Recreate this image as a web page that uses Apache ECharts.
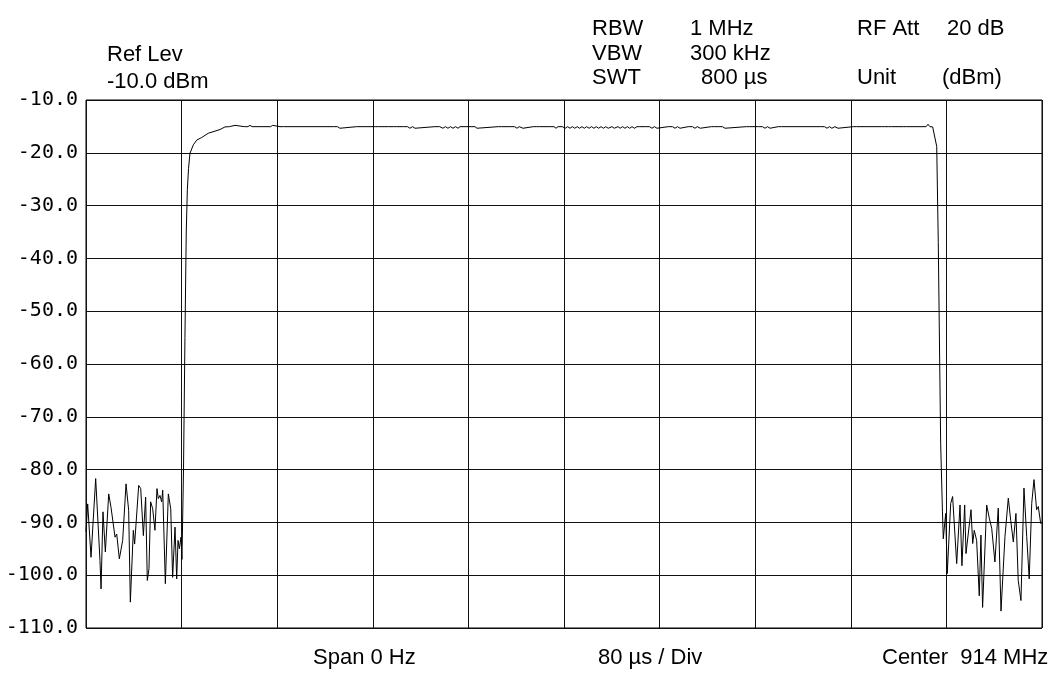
<!DOCTYPE html>
<html>
<head>
<meta charset="utf-8">
<script src="https://cdn.jsdelivr.net/npm/echarts@6/dist/echarts.min.js"></script>
<style>
html,body{margin:0;padding:0;background:#fff;}
#chart{width:1060px;height:673px;}
</style>
</head>
<body>
<div id="chart"></div>
<script>
// ---- data (time in µs, level in dBm) ----
const yTicks = [-110, -100, -90, -80, -70, -60, -50, -40, -30, -20, -10];

const noiseLeftT = [0, 1.4, 4.2, 8.1, 11.7, 12.6, 14.2, 16.2, 19.0, 20.9, 24.3, 25.7, 27.9, 30.7, 33.5, 35.7, 37.1, 39.6, 40.7, 44.1, 45.8, 48.0, 49.9, 51.3, 52.7, 54.1, 55.8, 57.7, 59.4, 60.5, 61.9, 63.3, 64.2, 66.4, 68.9, 70.9, 72.5, 74.5, 75.9, 77.0, 78.1, 79.5];
const noiseLeftV = [-91.8, -86.5, -96.6, -81.7, -97.2, -102.6, -88.0, -95.6, -84.6, -87.1, -92.8, -92.2, -96.9, -93.4, -82.7, -87.7, -105.1, -91.5, -94.1, -83.0, -83.6, -92.5, -85.2, -101.0, -98.8, -86.1, -87.4, -91.5, -83.6, -85.5, -84.9, -86.1, -83.9, -101.6, -84.6, -87.4, -100.4, -90.9, -100.7, -93.4, -95.0, -92.8];

const riseT = [80.3, 81.6, 82.8, 83.9, 84.8, 85.8, 87.0, 89.8, 92.6, 96.8, 102.3, 107.9, 112.1, 116.3];
const riseV = [-97, -80, -55, -35, -27, -23, -20.1, -18.5, -17.6, -17.1, -16.3, -15.9, -15.6, -15.1];

const flatT = [120, 124.7, 126, 132.5, 133.9, 135.5, 137.2, 139, 154.5, 156.2, 157.8, 162.3, 163.8, 165.3,
  207, 208.4, 210.4, 212.5, 214, 226.5, 227.9, 229.3, 242, 243.3, 244.8, 250.2, 251.6, 253, 257.2, 258.6, 260,
  265.5, 266.9, 269, 271.1, 273.2, 275.3, 276.8, 292, 293.5, 296, 298.7, 300.8, 302.9, 305, 307.1, 309.2, 311.3, 313,
  322.3, 323.8, 325.5, 327.2, 328.7, 345, 346.4, 347.8, 355, 356.5, 358.6, 360.7, 362.5, 365.7, 367.2,
  374.3, 375.7, 377, 378.2, 379.6, 388.5, 389.9, 391.6, 393.3, 395, 396.6, 398.6,
  401, 403, 405, 407, 409, 411, 413, 415, 417, 419, 421, 423, 425, 427, 429, 431, 433, 435, 437, 440.2, 442, 445.2, 447, 449, 451, 453, 455, 456.9, 459, 461.1, 463,
  468, 469.4, 471.5, 473.6, 475.7, 477.8, 479.3, 487.3, 488.7, 490.8, 492.9, 495, 497.1, 498.6,
  504, 505.4, 507.5, 509.6, 511.5, 514, 515.5, 523.3, 524.7, 526.1, 529, 530.5, 532.6, 534.7, 536.2,
  552.6, 554.0, 555.4, 562.6, 564.0, 566.1, 568.2, 570.3, 572.4, 573.9, 579.3, 580.7, 582.1,
  614.5, 615.9, 618, 620.1, 622.1, 624.2, 626.7, 629.3, 630.8, 642.1, 643.5, 644.9,
  665.5, 666.9, 668.3, 671.4, 672.8, 674.2, 683.9, 685.3, 686.7, 703, 704.6, 706.2, 708.5];
const flatV = [-15.05, -14.8, -15.05, -15.05, -14.8, -15.05, -14.8, -15.05, -15.05, -14.8, -15.05, -15.05, -15.4, -15.05,
  -15.05, -15.35, -15.05, -15.35, -15.05, -15.05, -15.4, -15.05, -15.05, -15.35, -15.05, -15.05, -15.35, -15.05, -15.05, -15.35, -15.05,
  -15.05, -15.35, -15.05, -15.35, -15.05, -15.35, -15.05, -15.05, -15.35, -15.05, -15.35, -15.05, -15.35, -15.05, -15.35, -15.05, -15.35, -15.05,
  -15.05, -15.35, -15.05, -15.35, -15.05, -15.05, -15.35, -15.05, -15.05, -15.35, -15.05, -15.35, -15.05, -15.35, -15.05,
  -15.05, -15.35, -15.05, -15.35, -15.05, -15.05, -15.35, -15.05, -15.35, -15.05, -15.35, -15.05,
  -15.35, -15.05, -15.35, -15.05, -15.35, -15.05, -15.35, -15.05, -15.35, -15.05, -15.35, -15.05, -15.35, -15.05, -15.35, -15.05, -15.35, -15.05, -15.35, -15.05, -15.35, -15.05, -15.35, -15.05, -15.35, -15.05, -15.35, -15.05, -15.35, -15.05, -15.05,
  -15.05, -15.35, -15.05, -15.35, -15.05, -15.35, -15.05, -15.05, -15.35, -15.05, -15.35, -15.05, -15.35, -15.05,
  -15.05, -15.35, -15.05, -15.35, -15.05, -15.35, -15.05, -15.05, -15.35, -15.05, -15.05, -15.35, -15.05, -15.35, -15.05,
  -15.05, -15.35, -15.05, -15.05, -15.35, -15.05, -15.35, -15.05, -15.35, -15.05, -15.05, -15.35, -15.05,
  -15.05, -15.35, -15.05, -15.35, -15.05, -15.35, -15.05, -15.35, -15.05, -15.05, -15.35, -15.05,
  -15.05, -15.35, -15.05, -15.05, -15.35, -15.05, -15.05, -15.35, -15.05, -15.05, -14.6, -15.05, -15.1];

const fallT = [710.0, 711.9, 713.2, 715.2, 716.7];
const fallV = [-15.3, -18.8, -37.0, -75.0, -88.0];

const noiseRightT = [717.4, 719.4, 720.7, 723.6, 725.2, 728.6, 731.4, 733.0, 735.3, 736.4, 740.6, 742.0, 743.3, 745.3, 747.5, 748.9, 750.3, 753.7, 755.9, 757.9, 760.6, 763.4, 765.7, 769.0, 771.8, 773.8, 776.0, 778.2, 780.1, 782.4, 784.9, 787.2, 789.3, 791.4, 793.3, 795.5, 796.9, 798.9, 800];
const noiseRightV = [-93.1, -88.3, -99.7, -86.4, -85.1, -97.8, -86.7, -98.2, -86.7, -95.9, -87.6, -94.0, -91.5, -93.4, -103.9, -92.4, -106.1, -86.7, -89.2, -91.1, -97.5, -87.3, -106.8, -92.7, -85.4, -89.6, -93.7, -88.3, -101.0, -104.8, -83.5, -92.7, -100.7, -86.4, -81.9, -87.6, -87.0, -90.2, -90.0];

// ---- build ----
function pairs(t, v) { return t.map((x, i) => [x, v[i]]); }
const trace = [].concat(
  pairs(noiseLeftT, noiseLeftV),
  pairs(riseT, riseV),
  pairs(flatT, flatV),
  pairs(fallT, fallV),
  pairs(noiseRightT, noiseRightV)
);

const chart = echarts.init(document.getElementById('chart'), null, {renderer: 'canvas'});
const txtFont = '22px "Liberation Sans", Arial, sans-serif';
function label(text, x, y) {
  return {type: 'text', left: x, top: y, style: {text: text, font: txtFont, fill: '#000', textVerticalAlign: 'middle'}};
}
chart.setOption({
  animation: false,
  backgroundColor: '#fff',
  grid: {left: 86, top: 100, width: 956, height: 528, show: true, borderColor: '#000', borderWidth: 1, backgroundColor: 'transparent'},
  xAxis: {
    type: 'value', min: 0, max: 800, interval: 80,
    axisLine: {show: false}, axisTick: {show: false}, axisLabel: {show: false},
    splitLine: {show: true, lineStyle: {color: '#111', width: 1}}
  },
  yAxis: {
    type: 'value', min: yTicks[0], max: yTicks[yTicks.length - 1], interval: 10,
    axisLine: {show: false}, axisTick: {show: false},
    axisLabel: {margin: 8, color: '#000', fontFamily: '"DejaVu Sans Mono", monospace', fontSize: 20,
      formatter: v => v.toFixed(1)},
    splitLine: {show: true, lineStyle: {color: '#111', width: 1}}
  },
  series: [{
    type: 'line', data: trace, showSymbol: false, symbol: 'none',
    lineStyle: {color: '#000', width: 1}, z: 3
  }],
  graphic: [
    label('Ref Lev', 107, 44),
    label('-10.0 dBm', 107, 71),
    label('RBW', 592, 18),
    label('VBW', 592, 43),
    label('SWT', 592, 67),
    label('1 MHz', 690, 18),
    label('300 kHz', 690, 43),
    label('800 µs', 701, 67),
    label('RF Att', 857, 18),
    label('20 dB', 947, 18),
    label('Unit', 857, 67),
    label('(dBm)', 942, 67),
    label('Span 0 Hz', 313, 647),
    label('80 µs / Div', 598, 647),
    label('Center  914 MHz', 882, 647)
  ]
});
</script>
</body>
</html>
